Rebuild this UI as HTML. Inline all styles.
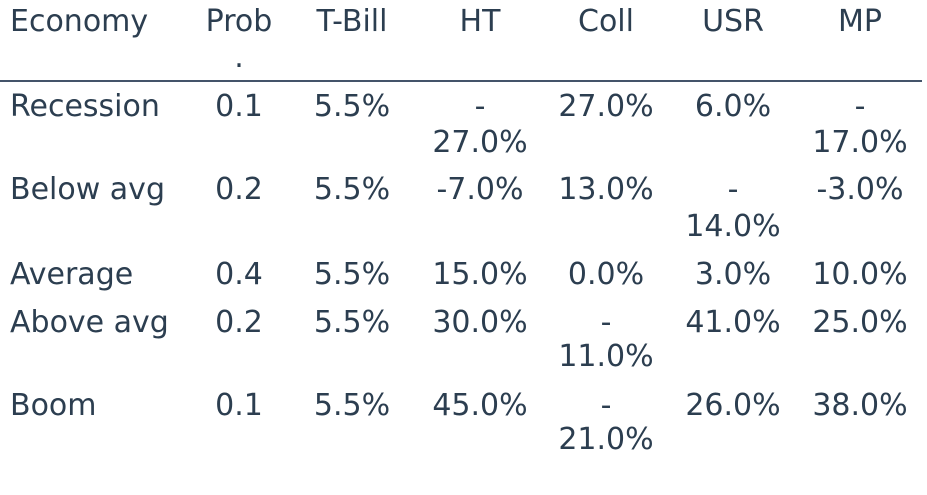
<!DOCTYPE html>
<html><head><meta charset="utf-8">
<style>
html,body{margin:0;padding:0;background:#fff;width:927px;height:495px;overflow:hidden}
body{position:relative;font-family:"DejaVu Sans","Liberation Sans",sans-serif;font-size:30px;color:#2c3e50}
.t{position:absolute;height:36px;line-height:36px;white-space:nowrap}
.l{text-align:left}
.c{text-align:center;width:140px}
#rule{position:absolute;left:0;top:80px;width:922px;height:2px;background:#44546a}
</style></head>
<body>
<div id="rule"></div>
<div id="tbl"></div>
<script>
var cols=[{x:10,a:'l'},{x:239},{x:352},{x:480},{x:606},{x:733},{x:860}];
var rows=[
 {y:[22,58],cells:[["Economy"],["Prob","."],["T-Bill"],["HT"],["Coll"],["USR"],["MP"]],name:'header'},
 {y:[107,143],cells:[["Recession"],["0.1"],["5.5%"],["-","27.0%"],["27.0%"],["6.0%"],["-","17.0%"]],name:'row-recession'},
 {y:[190,227],cells:[["Below avg"],["0.2"],["5.5%"],["-7.0%"],["13.0%"],["-","14.0%"],["-3.0%"]],name:'row-below-avg'},
 {y:[275,311],cells:[["Average"],["0.4"],["5.5%"],["15.0%"],["0.0%"],["3.0%"],["10.0%"]],name:'row-average'},
 {y:[323,357],cells:[["Above avg"],["0.2"],["5.5%"],["30.0%"],["-","11.0%"],["41.0%"],["25.0%"]],name:'row-above-avg'},
 {y:[406,440],cells:[["Boom"],["0.1"],["5.5%"],["45.0%"],["-","21.0%"],["26.0%"],["38.0%"]],name:'row-boom'}
];
var tbl=document.getElementById('tbl');
rows.forEach(function(r){
  r.cells.forEach(function(lines,ci){
    lines.forEach(function(txt,li){
      var d=document.createElement('div');
      var c=cols[ci];
      d.className='t '+(c.a==='l'?'l':'c');
      d.style.top=(r.y[li]-18)+'px';
      d.style.left=(c.a==='l'?c.x:c.x-70)+'px';
      d.textContent=txt;
      
      
      tbl.appendChild(d);
    });
  });
});
</script>
</body></html>
